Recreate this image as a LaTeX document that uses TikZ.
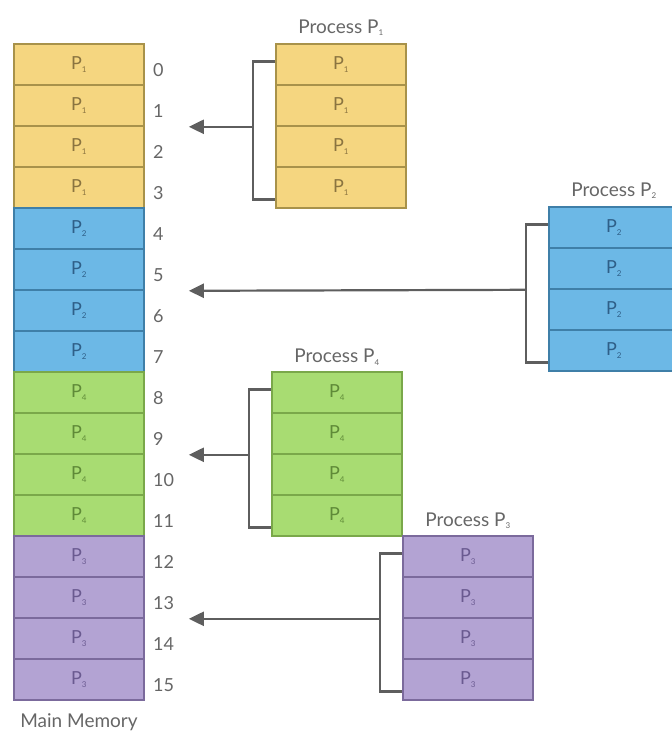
\documentclass[tikz,border=0pt]{standalone}
\usepackage{fontspec}
\setmainfont{Lato}
\usetikzlibrary{positioning, arrows.meta}
\definecolor{yelfill}{HTML}{F5D680}
\definecolor{yeledge}{HTML}{A8924A}
\definecolor{yeltext}{HTML}{8A7440}
\definecolor{blufill}{HTML}{6CB8E6}
\definecolor{bluedge}{HTML}{3F7FA8}
\definecolor{blutext}{HTML}{2F5F88}
\definecolor{grnfill}{HTML}{A8DC72}
\definecolor{grnedge}{HTML}{7AA84A}
\definecolor{grntext}{HTML}{5F8A38}
\definecolor{purfill}{HTML}{B3A3D3}
\definecolor{puredge}{HTML}{7B6A9C}
\definecolor{purtext}{HTML}{6A5A90}
\definecolor{labgray}{HTML}{666666}
\definecolor{wiregray}{HTML}{5E5E5E}
\newcommand{\pn}[1]{P\textsubscript{\fontsize{8}{8}\selectfont #1}}
\tikzset{
    cell/.style={draw, line width=1.6pt, minimum width=130pt, minimum height=41pt,
      inner sep=0pt, font=\fontsize{18}{18}\selectfont},
    yel/.style={cell, fill=yelfill, draw=yeledge, text=yeltext},
    blu/.style={cell, fill=blufill, draw=bluedge, text=blutext},
    grn/.style={cell, fill=grnfill, draw=grnedge, text=grntext},
    pur/.style={cell, fill=purfill, draw=puredge, text=purtext},
    num/.style={anchor=west, inner sep=0pt, text=labgray, font=\fontsize{18}{18}\selectfont},
    lab/.style={inner sep=1pt, text=labgray, font=\fontsize{19}{19}\selectfont},
    wire/.style={draw=wiregray, line width=2.2pt},
    arr/.style={wire, -{Triangle[length=15pt, width=14pt]}}
}
\begin{document}
\begin{tikzpicture}[x=1pt, y=-1pt]
                \useasboundingbox (0,0) rectangle (671,735);
                % main memory
                \foreach \i in {0,...,3} \node [yel] (m\i) at (79,{64.5+41*\i}) {\pn{1}};
                \foreach \i in {4,...,7} \node [blu] (m\i) at (79,{64.5+41*\i}) {\pn{2}};
                \foreach \i in {8,...,11} \node [grn] (m\i) at (79,{64.5+41*\i}) {\pn{4}};
                \foreach \i in {12,...,15} \node [pur] (m\i) at (79,{64.5+41*\i}) {\pn{3}};
                \foreach \i in {0,...,15} \node [num] (n\i) at (153,{70+41*\i}) {\i};
                \node [lab, below=12pt of m15] (mm) {Main Memory};
                % processes
                \foreach \k in {1,...,4} \node [yel] (p1c\k) at (341,{23.5+41*\k}) {\pn{1}};
                \foreach \k in {1,...,4} \node [blu] (p2c\k) at (614,{186.5+41*\k}) {\pn{2}};
                \foreach \k in {1,...,4} \node [grn] (p4c\k) at (337,{351.5+41*\k}) {\pn{4}};
                \foreach \k in {1,...,4} \node [pur] (p3c\k) at (468,{515.5+41*\k}) {\pn{3}};
                \node [lab, above=6pt of p1c1] (t1) {Process \pn{1}};
                \node [lab, above=6pt of p2c1] (t2) {Process \pn{2}};
                \node [lab, above=5pt of p4c1] (t4) {Process \pn{4}};
                \node [lab, above=5pt of p3c1] (t3) {Process \pn{3}};
                % brackets and arrows
                \foreach \p/\m in {1/1, 2/5, 4/9, 3/13} {
                  \draw [wire] ([yshift=3pt]p\p c1.west) -- ++(-22pt,0pt) |- ([yshift=-12pt]p\p c4.west);
                  \draw [arr] ([xshift=-22pt]p\p c2.south west) -- ([xshift=44pt]m\m.south east);
                }
      \end{tikzpicture}
\end{document}
